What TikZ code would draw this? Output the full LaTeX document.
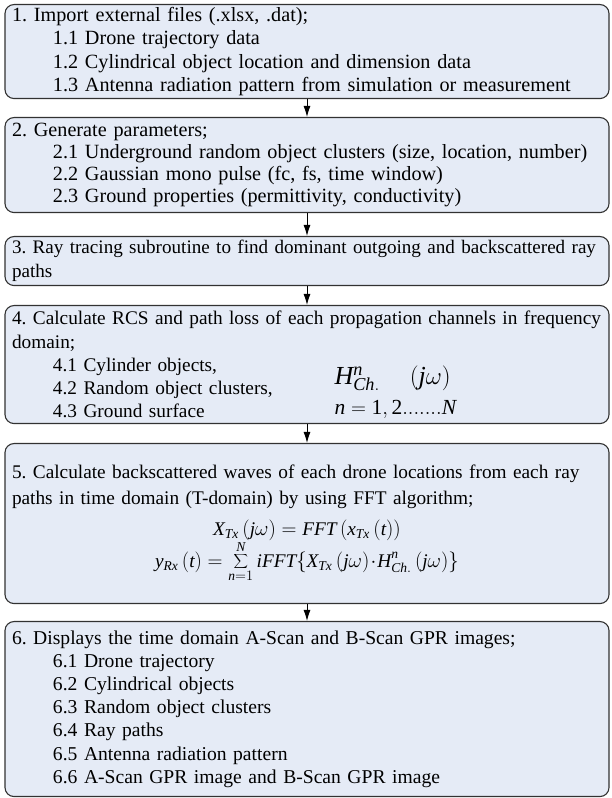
\documentclass[tikz,border=0pt]{standalone}
\usepackage{fontspec}
\setmainfont{Liberation Serif}
\usetikzlibrary{arrows.meta}
\definecolor{boxfill}{RGB}{229,235,246}
\definecolor{boxline}{RGB}{50,50,50}
\newcommand{\indnt}{\hspace*{41pt}}
\newcommand{\boxfont}[2]{\fontsize{#1}{#2}\selectfont\frenchspacing}

\begin{document}
\begin{tikzpicture}[x=1pt,y=1pt,>={Latex[length=11pt,width=7pt]},
  stage/.style={draw=boxline,line width=1.1pt,fill=boxfill,rounded corners=9pt,
    text width=602pt,inner xsep=1pt,inner ysep=0pt,align=left,anchor=north,
    execute at begin node={\leftskip=6pt\relax},font=\boxfont{20.2}{23.3}}]
  \useasboundingbox (0,0) rectangle (611,798);
  % the six stages, top to bottom
  \node[stage,minimum height=94pt] (b1) at (307,794) {1. Import external files (.xlsx, .dat);\\
    \indnt 1.1 Drone trajectory data\\
    \indnt 1.2 Cylindrical object location and dimension data\\
    \indnt 1.3 Antenna radiation pattern from simulation or measurement};
  \node[stage,minimum height=95pt,font=\boxfont{20.2}{21.8}] (b2) at (307,681) {2. Generate parameters;\\
    \indnt 2.1 Underground random object clusters (size, location, number)\\
    \indnt 2.2 Gaussian mono pulse (fc, fs, time window)\\
    \indnt 2.3 Ground properties (permittivity, conductivity)};
  \node[stage,minimum height=49pt,font=\boxfont{19.1}{23.5}] (b3) at (307,562) {3. Ray tracing subroutine to find dominant outgoing and backscattered ray\\
    paths};
  \node[stage,minimum height=118pt,font=\boxfont{19.3}{23.2}] (b4) at (307,493) {4. Calculate RCS and path loss of each propagation channels in frequency\\
    domain;\\
    \indnt 4.1 Cylinder objects,\\
    \indnt 4.2 Random object clusters,\\
    \indnt 4.3 Ground surface};
  \node[anchor=west,align=left,font=\fontsize{26}{30}\selectfont] (chan) at (331,406)
    {$\mathit{H}^{\mathit{n}}_{\mathit{Ch.}}\quad\left(\mathit{j}\omega\right)$\\
     {\fontsize{21.5}{30}\selectfont$\mathit{n}=\mathrm{1,2.......}\mathit{N}$}};
  \node[stage,minimum height=160pt,font=\boxfont{19.3}{26}] (b5) at (307,355) {5. Calculate backscattered waves of each drone locations from each ray\\
    paths in time domain (T-domain) by using FFT algorithm;\par
    \vspace{8pt}{\centering\baselineskip=23pt
    $\mathit{X}_{\mathit{Tx}}\left(\mathit{j}\omega\right)=\mathit{FFT}\left(\mathit{x}_{\mathit{Tx}}\left(\mathit{t}\right)\right)$\\[0pt]
    $\displaystyle \mathit{y}_{\mathit{Rx}}\left(\mathit{t}\right)=\sum_{\mathit{n}=1}^{\mathit{N}}\mathit{iFFT}\!\left\{\mathit{X}_{\mathit{Tx}}\left(\mathit{j}\omega\right)\!\cdot\! \mathit{H}^{\mathit{n}}_{\mathit{Ch.}}\left(\mathit{j}\omega\right)\right\}$\par}};
  \node[stage,minimum height=175pt,font=\boxfont{19.6}{23.2}] (b6) at (307,177) {6. Displays the time domain A-Scan and B-Scan GPR images;\\
    \indnt 6.1 Drone trajectory\\
    \indnt 6.2 Cylindrical objects\\
    \indnt 6.3 Random object clusters\\
    \indnt 6.4 Ray paths\\
    \indnt 6.5 Antenna radiation pattern\\
    \indnt 6.6 A-Scan GPR image and B-Scan GPR image};
  % flow arrows
  \foreach \a/\b in {b1/b2,b2/b3,b3/b4,b4/b5,b5/b6}
    \draw[->,line width=0.9pt] (\a.south) -- (\b.north);
\end{tikzpicture}
\end{document}
